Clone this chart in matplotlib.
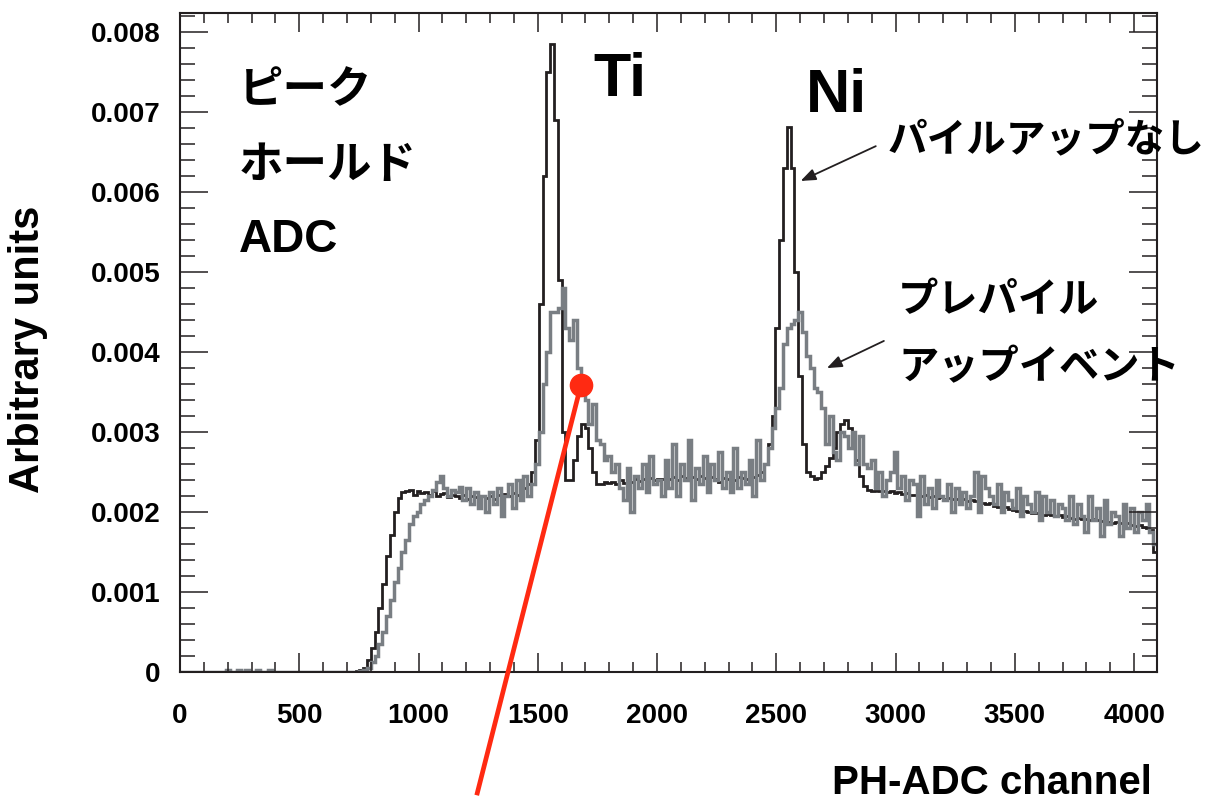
import numpy as np
import matplotlib.pyplot as plt
from matplotlib.ticker import MultipleLocator

plt.rcParams['font.family'] = ['Liberation Sans', 'DejaVu Sans']
plt.rcParams['font.weight'] = 'bold'

# PH-ADC ヒストグラム: 16 チャンネル/ビン, 値は x1e-3
bin_width = 16
n_channels = 4096

# パイルアップなし (黒)
no_pileup = [
    0, 0, 0, 0, 0, 0, 0, 0, 0, 0, 0, 0, 0, 0, 0, 0,
    0, 0, 0, 0, 0, 0, 0, 0, 0, 0, 0, 0, 0, 0, 0, 0,
    0, 0, 0, 0, 0, 0, 0, 0, 0, 0, 0, 0, 0, 0, 0.01, 0.02,
    0.05, 0.15, 0.3, 0.5, 0.8, 1.1, 1.45, 1.72, 2.0, 2.18, 2.25, 2.26, 2.28, 2.22, 2.27, 2.24,
    2.25, 2.22, 2.26, 2.2, 2.23, 2.24, 2.19, 2.22, 2.2, 2.18, 2.21, 2.17, 2.2, 2.19, 2.16, 2.2,
    2.18, 2.2, 2.17, 2.22, 2.19, 2.23, 2.2, 2.24, 2.22, 2.26, 2.3, 2.35, 2.5, 2.9, 4.6, 6.2,
    7.5, 7.85, 6.9, 4.9, 3.0, 2.4, 2.4, 2.65, 2.95, 3.1, 3.05, 2.8, 2.5, 2.35, 2.35, 2.38,
    2.36, 2.38, 2.35, 2.4, 2.37, 2.4, 2.38, 2.42, 2.39, 2.41, 2.4, 2.43, 2.4, 2.42, 2.41, 2.43,
    2.42, 2.44, 2.4, 2.45, 2.43, 2.41, 2.44, 2.42, 2.45, 2.43, 2.4, 2.44, 2.42, 2.38, 2.43, 2.41,
    2.42, 2.4, 2.44, 2.43, 2.41, 2.45, 2.44, 2.47, 2.5, 2.6, 2.85, 3.2, 4.3, 5.4, 6.3, 6.82,
    6.3, 5.0, 3.7, 2.85, 2.5, 2.45, 2.42, 2.43, 2.5, 2.58, 2.68, 2.8, 3.0, 3.1, 3.15, 3.05,
    2.9, 2.65, 2.45, 2.33, 2.28, 2.27, 2.28, 2.26, 2.27, 2.25, 2.26, 2.24, 2.25, 2.23, 2.24, 2.22,
    2.22, 2.21, 2.2, 2.21, 2.19, 2.2, 2.18, 2.19, 2.17, 2.18, 2.16, 2.17, 2.15, 2.16, 2.14, 2.15,
    2.14, 2.13, 2.12, 2.1, 2.11, 2.08, 2.06, 2.05, 2.07, 2.04, 2.03, 2.02, 2.01, 2.02, 2.0, 1.99,
    1.99, 1.98, 1.97, 1.98, 1.96, 1.95, 1.96, 1.94, 1.95, 1.93, 1.92, 1.93, 1.91, 1.92, 1.9, 1.91,
    1.9, 1.89, 1.9, 1.88, 1.87, 1.88, 1.86, 1.85, 1.86, 1.84, 1.83, 1.84, 1.82, 1.8, 1.78, 1.5,
]

# プレパイルアップイベント (灰)
pre_pileup = [
    0, 0, 0, 0, 0, 0, 0, 0, 0, 0, 0, 0, 0.02, 0, 0, 0.02,
    0, 0.03, 0, 0, 0.02, 0, 0, 0.02, 0, 0, 0, 0, 0, 0, 0, 0,
    0, 0, 0, 0, 0, 0, 0, 0, 0, 0, 0, 0, 0, 0, 0, 0.01,
    0.02, 0.05, 0.12, 0.2, 0.35, 0.5, 0.7, 0.9, 1.12, 1.3, 1.5, 1.65, 1.85, 1.95, 2.0, 2.1,
    2.15, 2.2, 2.28, 2.38, 2.45, 2.3, 2.2, 2.28, 2.25, 2.32, 2.15, 2.3, 2.1, 2.25, 2.05, 2.2,
    2.0, 2.25, 2.1, 2.3, 1.95, 2.2, 2.35, 2.05, 2.4, 2.15, 2.45, 2.2, 2.35, 2.6, 3.0, 3.6,
    4.0, 4.5, 4.5, 4.55, 4.8, 4.3, 4.15, 4.4, 3.8, 3.5, 3.4, 3.1, 3.35, 2.9, 2.85, 2.65,
    2.7, 2.5, 2.6, 2.3, 2.15, 2.55, 2.0, 2.45, 2.3, 2.6, 2.25, 2.7, 2.35, 2.4, 2.2, 2.65,
    2.3, 2.85, 2.2, 2.6, 2.4, 2.9, 2.15, 2.55, 2.35, 2.7, 2.25, 2.6, 2.4, 2.75, 2.3, 2.5,
    2.25, 2.8, 2.3, 2.5, 2.35, 2.65, 2.2, 2.9, 2.4, 2.6, 2.8, 3.05, 3.3, 3.55, 4.1, 4.3,
    4.35, 4.4, 4.5, 4.25, 3.95, 3.8, 3.55, 3.5, 3.3, 2.85, 3.2, 2.75, 2.65, 3.0, 2.95, 2.8,
    3.0, 2.6, 2.95, 2.6, 2.55, 2.65, 2.3, 2.5, 2.2, 2.4, 2.5, 2.75, 2.3, 2.45, 2.15, 2.4,
    2.35, 1.95, 2.45, 2.1, 2.3, 2.05, 2.4, 2.2, 2.15, 2.35, 2.0, 2.3, 2.1, 2.25, 2.05, 2.2,
    2.5, 2.0, 2.45, 2.3, 2.2, 2.1, 2.35, 2.0, 2.25, 2.15, 2.05, 2.3, 1.95, 2.2, 2.1, 2.0,
    2.25, 1.9, 2.2, 2.0, 2.15, 1.95, 2.1, 2.05, 1.9, 2.2, 1.85, 2.1, 1.95, 1.75, 2.2, 1.9,
    2.05, 1.7, 2.15, 1.85, 2.0, 1.95, 1.7, 2.1, 1.8, 2.05, 1.75, 2.0, 1.9, 2.1, 1.75, 1.6,
]

# 赤い線 (チャンネル, 値)
red_line_x = [1681, 1244]
red_line_y = [0.00359, -0.00154]

edges = np.arange(0, n_channels + bin_width, bin_width)
black_vals = np.array(no_pileup) * 1e-3
gray_vals = np.array(pre_pileup) * 1e-3

fig = plt.figure(figsize=(12.22, 8.02), dpi=100)
ax = fig.add_axes([0.1473, 0.162, 0.7995, 0.8218])

ax.stairs(black_vals, edges, baseline=None, color='#231f20', lw=2.0)
ax.stairs(gray_vals, edges, baseline=None, color='#797e83', lw=2.5)

ax.set_xlim(0, n_channels)
ax.set_ylim(0, 0.00824)

ax.xaxis.set_major_locator(MultipleLocator(500))
ax.xaxis.set_minor_locator(MultipleLocator(100))
ax.yaxis.set_major_locator(MultipleLocator(0.001))
ax.yaxis.set_minor_locator(MultipleLocator(0.0002))
ax.yaxis.set_major_formatter(lambda v, p: '0' if abs(v) < 1e-9 else f'{v:.3f}')

ax.tick_params(axis='both', which='both', direction='in', top=True, right=True,
               width=1.1, color='#231f20', labelsize=20)
ax.tick_params(axis='x', which='major', length=14, pad=22)
ax.tick_params(axis='x', which='minor', length=7)
ax.tick_params(axis='y', which='major', length=20, pad=14)
ax.tick_params(axis='y', which='minor', length=11)
for s in ax.spines.values():
    s.set_linewidth(1.5)
    s.set_color('#231f20')

ax.set_xlabel('PH-ADC channel', fontsize=29, fontweight='bold', ha='right')
ax.xaxis.set_label_coords(0.995, -0.14)
ax.set_ylabel('Arbitrary units', fontsize=30, fontweight='bold')
ax.yaxis.set_label_coords(-0.135, 0.49)

jp = ['Noto Sans CJK JP', 'DejaVu Sans']
ax.text(247, 0.00728, 'ピーク', family=jp, fontsize=32, fontweight='bold', va='center')
ax.text(247, 0.00634, 'ホールド', family=jp, fontsize=32, fontweight='bold', va='center')
ax.text(247, 0.0054, 'ADC', fontsize=33, fontweight='bold', va='center')
ax.text(1735, 0.0074, 'Ti', fontsize=44, fontweight='bold', va='center')
ax.text(2623, 0.0072, 'Ni', fontsize=44, fontweight='bold', va='center')
ax.text(2968, 0.00665, 'パイルアップなし', family=jp, fontsize=28.5, fontweight='bold',
        va='center', clip_on=False)
ax.text(3010, 0.00465, 'プレパイル', family=jp, fontsize=29, fontweight='bold', va='center')
ax.text(3010, 0.0038, 'アップイベント', family=jp, fontsize=29, fontweight='bold',
        va='center', clip_on=False)

arrow = dict(arrowstyle='-|>,head_length=0.9,head_width=0.35', color='#231f20', lw=1.3,
             shrinkA=0, shrinkB=0)
ax.annotate('', xy=(2602, 0.00614), xytext=(2917, 0.006575), arrowprops=arrow)
ax.annotate('', xy=(2712, 0.0038), xytext=(2951, 0.00414), arrowprops=arrow)

ax.plot(red_line_x, red_line_y, color='#ff2a12', lw=3.4, clip_on=False,
        solid_capstyle='butt', zorder=5)
ax.plot(red_line_x[:1], red_line_y[:1], 'o', color='#ff2a12', ms=16, clip_on=False, zorder=6)

fig.savefig('out.png', dpi=100)
